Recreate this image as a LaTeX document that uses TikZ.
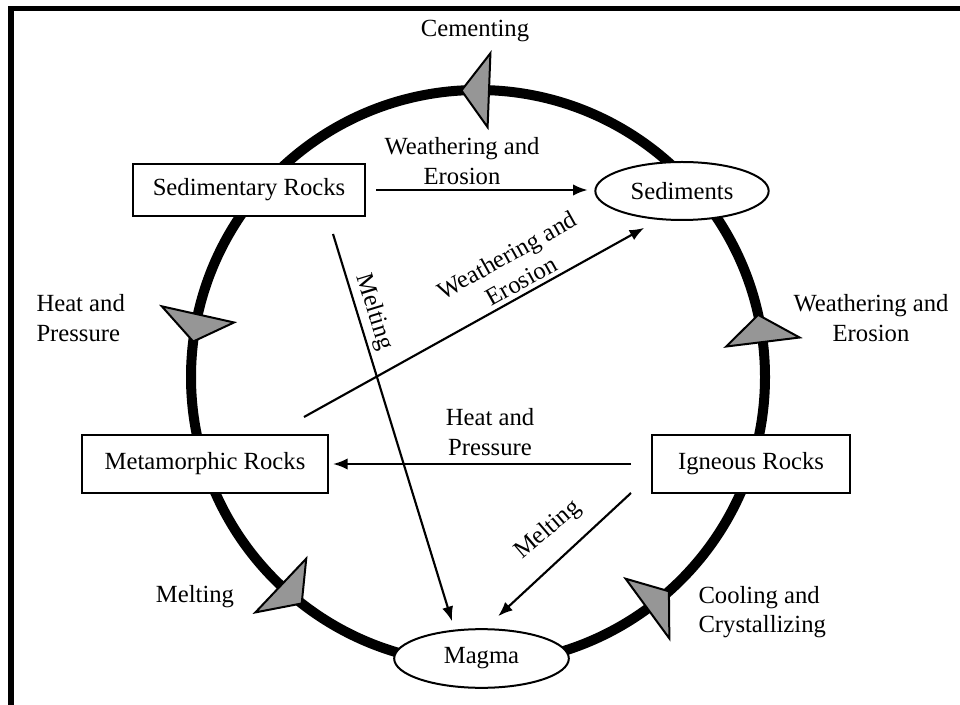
\documentclass[tikz,border=0pt]{standalone}
\usepackage{fontspec}
\setmainfont{Liberation Serif}
\usetikzlibrary{shapes.geometric,arrows.meta}

\tikzset{every picture/.style={line width=0.75pt}}
\tikzset{
  rockbox/.style={draw, line width=1.5pt, fill=white, inner sep=0pt, minimum height=43.5pt},
  rockoval/.style={draw, ellipse, line width=1.5pt, fill=white, inner sep=0pt},
  flow/.style={line width=1.6pt, -{Latex[length=11pt,width=8.5pt]}},
  cyctip/.style={fill={rgb,255:red,150;green,150;blue,150}, line width=1.5pt, line join=miter},
  lbl/.style={inner sep=0.75pt, align=center},
}

\begin{document}
\begin{tikzpicture}[x=0.75pt,y=0.75pt,yscale=-1,xscale=1,font=\fontsize{18.5}{22}\selectfont]
\useasboundingbox (0,0) rectangle (960,705);

%Straight Lines (frame)
\draw [line width=4.2pt, line join=miter] (11.2,705) -- (11.2,8.4) -- (960,8.4) ;

%Shape: Circle
\coordinate (cc) at (478,377);
\draw [line width=7.5pt] (cc) circle (287) ;

%Shape: Triangles on the cycle
\foreach \a in {87.8,167.4,226.6,306.2,7}
  \draw [cyctip] ([shift={(-\a:250)}]cc) -- ([shift={(-\a:324)}]cc) -- ([shift={(-\a-5.5:287)}]cc) -- cycle ;

% Rock Nodes
\node [rockbox, minimum width=174pt, minimum height=39pt] (sedr) at (249,190) {Sedimentary Rocks};
\node [rockoval, minimum width=130pt, minimum height=43.5pt] (sedi) at (682,191) {Sediments};
\node [rockbox, minimum width=184.5pt] (meta) at (205,464) {Metamorphic Rocks};
\node [rockbox, minimum width=148.5pt] (ign) at (751,464) {Igneous Rocks};
\node [rockoval, minimum width=131pt, minimum height=44pt] (magma) at (481.5,658.5) {Magma};

%Straight Lines (arrows)
\draw [flow, shorten <=7.5pt, shorten >=5pt] (sedr.east) -- (sedr.east -| sedi.west) ;
\draw [flow, shorten >=12.3pt] ([shift={(-25,-17)}]meta.north east) -- (sedi.231) ;
\draw [flow, shorten >=6.6pt] ([shift={(-33,17)}]sedr.south east) -- (magma.133.8) ;
\draw [flow, shorten <=15pt, shorten >=3pt] (ign.west) -- (meta.east) ;
\draw [flow, shorten >=13.2pt] ([shift={(-20,-1)}]ign.south west) -- (magma.83) ;

% Text Node
\node [lbl] (cemlbl) at (475,31) {Cementing};
% Text Node
\node [lbl, align=left, anchor=west] (hplbl) at (35,318) {Heat and\\Pressure};
% Text Node
\node [lbl] (welbl) at (871,318) {Weathering and\\Erosion};
% Text Node
\node [lbl] (mltlbl) at (195,597) {Melting};
% Text Node
\node [lbl, align=left, anchor=west] (crylbl) at (697,612) {Cooling and\\Crystallizing};
% Text Node
\node [lbl] (sedwlbl) at (462,161) {Weathering and\\Erosion};
% Text Node
\node [lbl] (metplbl) at (490,432) {Heat and\\Pressure};
% Text Node
\node [lbl, rotate=29.2] (metwlbl) at (514,268) {Weathering and\\Erosion};
% Text Node
\node [lbl, rotate=-73] (sedmlbl) at (374,312) {Melting};
% Text Node
\node [lbl, rotate=40.6] (ignmlbl) at (548,530) {Melting};

\end{tikzpicture}
\end{document}
